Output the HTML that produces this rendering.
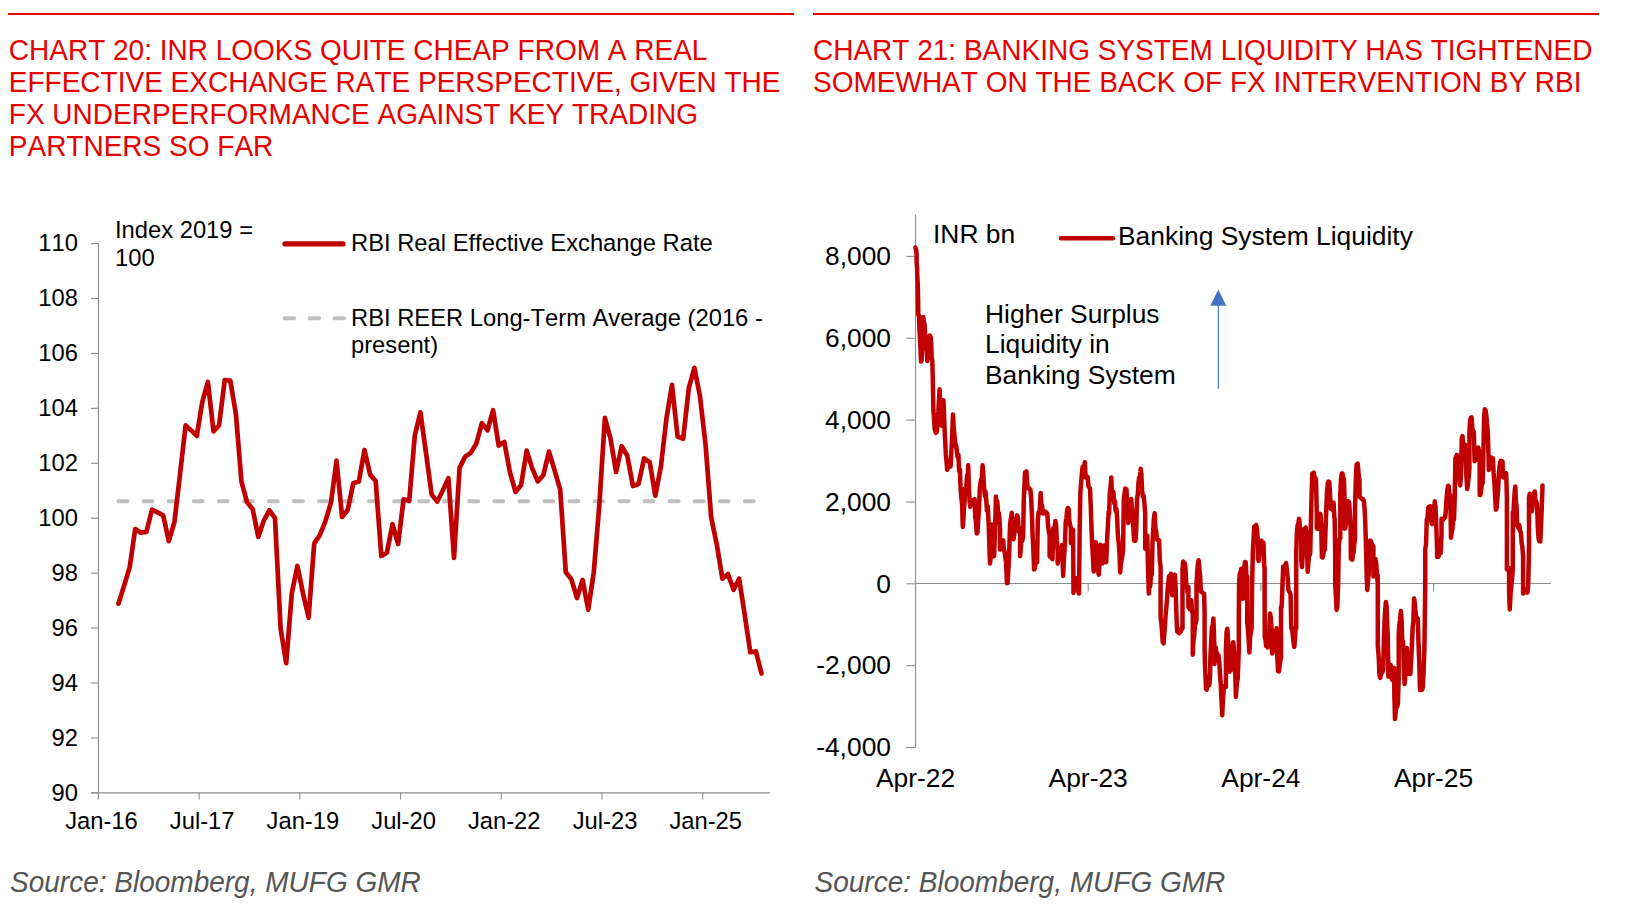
<!DOCTYPE html>
<html><head><meta charset="utf-8"><title>Charts</title>
<style>
html,body{margin:0;padding:0;background:#fff;}
body{font-kerning:none;width:1632px;height:919px;position:relative;overflow:hidden;font-family:"Liberation Sans",sans-serif;}
.rule{position:absolute;top:12.9px;height:2.2px;background:#e60000;}
.title{position:absolute;top:34.4px;font-size:28px;line-height:31.07px;transform:scaleY(1.03);transform-origin:0 0;color:#e60000;white-space:nowrap;letter-spacing:0px;}
.src{position:absolute;top:867px;font-size:28px;line-height:32px;font-style:italic;color:#555555;transform:scaleY(1.035);transform-origin:0 25px;white-space:nowrap;}
svg{position:absolute;left:0;top:0;}
.t1{font-family:"Liberation Sans",sans-serif;font-size:23.75px;fill:#000;font-kerning:none;}
.t2{font-family:"Liberation Sans",sans-serif;font-size:26.4px;fill:#000;font-kerning:none;}
</style></head><body>
<div class="rule" style="left:8px;width:786px"></div>
<div class="rule" style="left:813px;width:786px"></div>
<div class="title" style="left:8.8px">CHART 20: INR LOOKS QUITE CHEAP FROM A REAL<br>EFFECTIVE EXCHANGE RATE PERSPECTIVE, GIVEN THE<br>FX UNDERPERFORMANCE AGAINST KEY TRADING<br>PARTNERS SO FAR</div>
<div class="title" style="left:813px">CHART 21: BANKING SYSTEM LIQUIDITY HAS TIGHTENED<br>SOMEWHAT ON THE BACK OF FX INTERVENTION BY RBI</div>
<div class="src" style="left:10px">Source: Bloomberg, MUFG GMR</div>
<div class="src" style="left:814.5px">Source: Bloomberg, MUFG GMR</div>
<svg width="1632" height="919" viewBox="0 0 1632 919">
<line x1="98.45" y1="243" x2="98.45" y2="799" stroke="#8c8c8c" stroke-width="1.1"/>
<line x1="91" y1="792.85" x2="770" y2="792.85" stroke="#8c8c8c" stroke-width="1.1"/>
<line x1="91" y1="792.85" x2="98.45" y2="792.85" stroke="#8c8c8c" stroke-width="1.1"/>
<text x="78" y="800.6" text-anchor="end" class="t1">90</text>
<line x1="91" y1="737.92" x2="98.45" y2="737.92" stroke="#8c8c8c" stroke-width="1.1"/>
<text x="78" y="745.6" text-anchor="end" class="t1">92</text>
<line x1="91" y1="682.99" x2="98.45" y2="682.99" stroke="#8c8c8c" stroke-width="1.1"/>
<text x="78" y="690.7" text-anchor="end" class="t1">94</text>
<line x1="91" y1="628.06" x2="98.45" y2="628.06" stroke="#8c8c8c" stroke-width="1.1"/>
<text x="78" y="635.8" text-anchor="end" class="t1">96</text>
<line x1="91" y1="573.13" x2="98.45" y2="573.13" stroke="#8c8c8c" stroke-width="1.1"/>
<text x="78" y="580.8" text-anchor="end" class="t1">98</text>
<line x1="91" y1="518.20" x2="98.45" y2="518.20" stroke="#8c8c8c" stroke-width="1.1"/>
<text x="78" y="525.9" text-anchor="end" class="t1">100</text>
<line x1="91" y1="463.27" x2="98.45" y2="463.27" stroke="#8c8c8c" stroke-width="1.1"/>
<text x="78" y="471.0" text-anchor="end" class="t1">102</text>
<line x1="91" y1="408.34" x2="98.45" y2="408.34" stroke="#8c8c8c" stroke-width="1.1"/>
<text x="78" y="416.0" text-anchor="end" class="t1">104</text>
<line x1="91" y1="353.41" x2="98.45" y2="353.41" stroke="#8c8c8c" stroke-width="1.1"/>
<text x="78" y="361.1" text-anchor="end" class="t1">106</text>
<line x1="91" y1="298.48" x2="98.45" y2="298.48" stroke="#8c8c8c" stroke-width="1.1"/>
<text x="78" y="306.2" text-anchor="end" class="t1">108</text>
<line x1="91" y1="243.55" x2="98.45" y2="243.55" stroke="#8c8c8c" stroke-width="1.1"/>
<text x="78" y="251.3" text-anchor="end" class="t1">110</text>
<line x1="98.45" y1="792.85" x2="98.45" y2="799.5" stroke="#8c8c8c" stroke-width="1.1"/>
<text x="101.5" y="829" text-anchor="middle" class="t1">Jan-16</text>
<line x1="199.15" y1="792.85" x2="199.15" y2="799.5" stroke="#8c8c8c" stroke-width="1.1"/>
<text x="202.2" y="829" text-anchor="middle" class="t1">Jul-17</text>
<line x1="299.85" y1="792.85" x2="299.85" y2="799.5" stroke="#8c8c8c" stroke-width="1.1"/>
<text x="302.9" y="829" text-anchor="middle" class="t1">Jan-19</text>
<line x1="400.55" y1="792.85" x2="400.55" y2="799.5" stroke="#8c8c8c" stroke-width="1.1"/>
<text x="403.6" y="829" text-anchor="middle" class="t1">Jul-20</text>
<line x1="501.25" y1="792.85" x2="501.25" y2="799.5" stroke="#8c8c8c" stroke-width="1.1"/>
<text x="504.2" y="829" text-anchor="middle" class="t1">Jan-22</text>
<line x1="601.95" y1="792.85" x2="601.95" y2="799.5" stroke="#8c8c8c" stroke-width="1.1"/>
<text x="605.0" y="829" text-anchor="middle" class="t1">Jul-23</text>
<line x1="702.65" y1="792.85" x2="702.65" y2="799.5" stroke="#8c8c8c" stroke-width="1.1"/>
<text x="705.7" y="829" text-anchor="middle" class="t1">Jan-25</text>
<line x1="118.6" y1="501.2" x2="760" y2="501.2" stroke="#bfbfbf" stroke-width="4.1" stroke-dasharray="8.8,16.25" stroke-linecap="round"/>
<polyline points="118.5,603.7 124.1,585.6 129.7,567.2 135.2,529.0 140.8,532.7 146.4,531.9 152.0,509.7 157.6,512.4 163.2,515.4 168.8,541.1 174.4,522.2 180.0,474.6 185.6,425.4 191.2,430.4 196.8,435.9 202.3,401.9 207.9,382.0 213.5,431.3 219.1,425.3 224.7,380.2 230.3,380.7 235.9,413.9 241.5,481.9 247.1,502.3 252.7,509.2 258.3,536.9 263.9,520.3 269.4,510.3 275.0,518.2 280.6,628.3 286.2,663.2 291.8,593.3 297.4,566.0 303.0,593.3 308.6,617.6 314.2,543.5 319.8,535.1 325.4,521.3 331.0,502.5 336.5,460.7 342.1,517.0 347.7,510.0 353.3,483.2 358.9,481.4 364.5,450.0 370.1,474.6 375.7,481.0 381.3,556.0 386.9,552.8 392.5,524.2 398.1,544.0 403.6,499.3 409.2,501.1 414.8,435.5 420.4,412.4 426.0,452.9 431.6,494.3 437.2,501.7 442.8,490.5 448.4,478.2 454.0,557.9 459.6,467.6 465.2,456.6 470.7,452.9 476.3,443.7 481.9,423.1 487.5,430.3 493.1,410.2 498.7,445.6 504.3,441.9 509.9,472.2 515.5,491.9 521.1,485.1 526.7,450.6 532.3,468.6 537.8,481.4 543.4,475.0 549.0,451.6 554.6,470.4 560.2,489.7 565.8,572.3 571.4,579.3 577.0,598.0 582.6,580.0 588.2,609.6 593.8,572.3 599.4,504.0 604.9,417.8 610.5,438.5 616.1,472.0 621.7,446.2 627.3,455.8 632.9,486.0 638.5,484.0 644.1,458.4 649.7,462.2 655.3,495.7 660.9,466.5 666.5,418.0 672.0,384.9 677.6,436.5 683.2,438.7 688.8,388.1 694.4,367.8 700.0,396.4 705.6,445.0 711.2,517.5 716.8,544.5 722.4,578.7 728.0,574.1 733.6,589.8 739.1,578.7 744.7,614.6 750.3,652.3 755.9,651.4 761.5,673.5" fill="none" stroke="#c00000" stroke-width="4.7" stroke-linejoin="round" stroke-linecap="round"/>
<line x1="285" y1="243.9" x2="343" y2="243.9" stroke="#c00000" stroke-width="5.3" stroke-linecap="round"/>
<text x="351" y="251" class="t1">RBI Real Effective Exchange Rate</text>
<line x1="284.6" y1="318.2" x2="344" y2="318.2" stroke="#bfbfbf" stroke-width="4.1" stroke-dasharray="9.6,15.4" stroke-linecap="round"/>
<text x="351" y="326" class="t1">RBI REER Long-Term Average (2016 -</text>
<text x="351" y="353" class="t1">present)</text>
<text x="115" y="238" class="t1">Index 2019 =</text>
<text x="115" y="266" class="t1">100</text>
<line x1="915.5" y1="215" x2="915.5" y2="748" stroke="#8c8c8c" stroke-width="1.1"/>
<line x1="915.5" y1="583.47" x2="1551" y2="583.47" stroke="#8c8c8c" stroke-width="1.1"/>
<line x1="906.3" y1="747.50" x2="915.5" y2="747.50" stroke="#8c8c8c" stroke-width="1.1"/>
<text x="891" y="756.3" text-anchor="end" class="t2">-4,000</text>
<line x1="906.3" y1="665.65" x2="915.5" y2="665.65" stroke="#8c8c8c" stroke-width="1.1"/>
<text x="891" y="674.4" text-anchor="end" class="t2">-2,000</text>
<line x1="906.3" y1="583.80" x2="915.5" y2="583.80" stroke="#8c8c8c" stroke-width="1.1"/>
<text x="891" y="592.6" text-anchor="end" class="t2">0</text>
<line x1="906.3" y1="501.95" x2="915.5" y2="501.95" stroke="#8c8c8c" stroke-width="1.1"/>
<text x="891" y="510.8" text-anchor="end" class="t2">2,000</text>
<line x1="906.3" y1="420.10" x2="915.5" y2="420.10" stroke="#8c8c8c" stroke-width="1.1"/>
<text x="891" y="428.9" text-anchor="end" class="t2">4,000</text>
<line x1="906.3" y1="338.25" x2="915.5" y2="338.25" stroke="#8c8c8c" stroke-width="1.1"/>
<text x="891" y="347.1" text-anchor="end" class="t2">6,000</text>
<line x1="906.3" y1="256.40" x2="915.5" y2="256.40" stroke="#8c8c8c" stroke-width="1.1"/>
<text x="891" y="265.2" text-anchor="end" class="t2">8,000</text>
<line x1="915.50" y1="583.47" x2="915.50" y2="591.5" stroke="#8c8c8c" stroke-width="1.1"/>
<text x="915.5" y="786.5" text-anchor="middle" class="t2">Apr-22</text>
<line x1="1088.20" y1="583.47" x2="1088.20" y2="591.5" stroke="#8c8c8c" stroke-width="1.1"/>
<text x="1088.2" y="786.5" text-anchor="middle" class="t2">Apr-23</text>
<line x1="1260.90" y1="583.47" x2="1260.90" y2="591.5" stroke="#8c8c8c" stroke-width="1.1"/>
<text x="1260.9" y="786.5" text-anchor="middle" class="t2">Apr-24</text>
<line x1="1433.60" y1="583.47" x2="1433.60" y2="591.5" stroke="#8c8c8c" stroke-width="1.1"/>
<text x="1433.6" y="786.5" text-anchor="middle" class="t2">Apr-25</text>
<polyline points="915.4,247.5 916.1,250.1 916.6,254.0 916.6,262.0 917.2,270.0 917.2,274.0 917.8,285.0 918.1,300.0 918.3,315.0 919.0,315.7 919.4,328.0 920.1,340.9 920.3,343.0 921.0,361.5 921.6,360.5 922.3,342.4 923.0,328.5 923.2,317.0 923.9,321.9 924.6,324.5 925.1,334.0 925.8,341.6 926.5,348.3 927.2,357.9 927.4,361.0 928.1,356.7 928.8,353.5 929.5,341.0 929.8,335.5 930.6,337.0 931.3,345.0 931.6,357.0 932.3,360.9 932.8,380.0 933.4,410.7 934.1,419.0 934.7,429.2 935.4,431.7 936.0,432.8 936.9,431.6 937.6,418.9 938.3,412.0 939.0,399.6 939.6,389.2 940.3,406.5 941.0,419.0 941.2,425.5 941.9,415.1 942.6,417.8 943.2,403.6 943.5,400.3 944.2,419.0 944.9,436.1 945.1,439.0 945.8,453.4 946.5,460.9 947.2,469.7 947.4,467.9 948.0,467.9 948.7,466.9 949.4,467.2 950.1,466.7 950.6,466.2 951.3,453.5 952.0,440.0 952.7,422.3 952.9,414.4 953.6,425.3 954.3,434.1 955.0,439.5 955.4,445.9 956.1,445.4 956.8,450.4 957.5,456.8 958.4,454.7 959.1,471.2 959.9,469.4 960.5,486.9 961.2,495.9 962.1,504.7 962.8,527.0 963.2,523.1 963.9,508.3 964.6,501.7 965.0,488.5 965.7,492.2 966.5,484.1 967.2,475.3 967.9,476.7 968.2,465.3 968.9,487.7 969.6,501.4 970.1,506.9 970.8,503.5 971.5,501.6 972.4,500.3 973.0,500.7 973.7,500.5 974.6,499.1 975.2,517.0 975.9,521.1 976.8,533.4 977.5,532.6 978.1,521.3 979.0,510.6 979.7,489.8 980.4,484.1 981.1,479.2 981.8,480.0 982.6,465.3 983.3,474.5 984.0,487.3 984.9,495.9 985.5,491.5 986.2,499.2 986.9,510.6 987.8,506.2 988.5,521.5 988.8,528.2 989.5,549.1 990.0,563.5 990.7,557.1 991.4,536.3 991.8,524.6 992.5,537.6 993.1,554.3 993.8,553.2 994.1,556.2 994.8,535.7 995.5,514.9 995.9,496.6 996.6,506.3 997.3,501.2 998.1,513.5 998.8,513.0 999.5,519.6 1000.0,528.2 1000.0,549.6 1000.7,549.0 1001.4,547.0 1002.1,543.2 1002.8,541.7 1003.2,540.3 1003.9,550.3 1004.6,551.5 1005.4,557.6 1006.1,562.4 1006.9,583.2 1007.6,583.1 1008.3,570.8 1009.1,557.6 1009.9,528.2 1010.5,520.5 1011.2,517.0 1011.8,512.8 1012.5,529.4 1013.1,533.1 1013.5,539.3 1014.2,534.0 1014.9,528.6 1015.7,520.1 1016.4,518.5 1017.1,515.4 1017.9,517.2 1018.6,530.6 1019.3,532.3 1020.1,528.2 1020.1,556.2 1020.8,548.3 1021.5,536.9 1022.2,541.0 1023.1,537.1 1023.8,498.8 1024.5,484.4 1025.0,472.6 1025.7,475.1 1026.4,471.2 1027.1,482.9 1027.8,488.1 1028.2,488.5 1028.9,488.1 1029.7,489.3 1030.4,489.5 1031.1,497.2 1031.9,513.5 1032.6,535.4 1033.4,550.3 1034.1,569.4 1034.8,568.6 1035.5,563.6 1036.2,563.0 1037.1,562.1 1037.8,520.9 1038.5,512.4 1039.2,513.5 1039.9,507.0 1040.7,492.9 1041.4,504.7 1042.1,505.5 1042.9,513.5 1043.6,513.4 1044.3,512.7 1045.0,511.8 1045.7,511.7 1046.4,512.9 1047.1,513.5 1047.3,513.5 1048.0,524.8 1048.7,530.6 1049.6,535.6 1049.6,556.2 1050.2,556.9 1050.9,555.1 1051.6,558.0 1052.5,559.1 1053.2,528.2 1053.9,528.7 1054.6,529.0 1055.4,520.9 1056.1,524.9 1056.8,540.4 1057.7,551.8 1057.7,563.5 1058.3,557.9 1059.0,559.0 1059.7,559.8 1060.4,557.3 1061.1,548.2 1061.3,548.1 1062.0,545.0 1062.7,562.2 1063.2,576.0 1063.9,559.0 1064.6,549.5 1065.0,542.9 1065.7,522.4 1066.4,518.3 1067.1,511.3 1067.8,508.0 1068.7,509.1 1069.4,522.0 1070.1,524.4 1070.9,528.2 1070.9,542.9 1071.6,540.5 1072.3,534.6 1073.1,529.7 1073.5,592.9 1074.2,583.7 1074.9,589.6 1075.6,583.4 1076.0,578.2 1076.7,582.1 1077.4,585.9 1078.1,590.6 1079.0,593.5 1079.7,528.2 1080.4,491.5 1081.1,483.4 1081.8,474.1 1082.5,467.4 1083.4,466.2 1084.1,469.6 1084.8,462.3 1085.6,477.5 1086.3,475.9 1087.1,476.5 1087.8,477.5 1088.4,486.4 1089.1,487.0 1090.0,488.5 1090.7,504.4 1091.5,528.2 1092.2,544.7 1092.8,555.1 1093.7,571.6 1094.4,549.0 1095.2,542.9 1095.8,542.2 1096.5,554.4 1097.2,562.3 1097.9,566.4 1098.6,574.0 1098.8,574.6 1099.5,564.4 1100.3,544.7 1101.0,546.6 1101.7,547.1 1102.5,563.5 1103.2,554.7 1104.0,545.4 1104.7,548.1 1105.3,559.3 1106.2,562.1 1106.9,544.5 1107.3,535.6 1108.0,523.7 1108.7,511.5 1109.1,513.5 1109.8,492.7 1110.5,487.9 1111.3,477.5 1112.0,495.7 1112.7,496.9 1113.4,491.7 1114.3,503.2 1115.0,501.2 1115.6,510.9 1116.5,509.1 1117.2,519.2 1117.8,534.3 1118.7,542.9 1119.4,551.1 1120.2,572.4 1120.8,564.5 1121.5,560.1 1122.2,556.6 1123.1,550.3 1123.8,498.8 1124.5,494.4 1125.2,488.5 1125.9,494.0 1126.5,489.3 1127.2,506.4 1127.8,511.9 1128.2,523.1 1128.9,519.0 1129.6,506.5 1130.3,508.5 1131.2,499.1 1131.9,507.6 1132.7,513.5 1133.3,527.5 1134.1,540.7 1134.8,537.9 1135.5,540.7 1136.3,528.2 1137.1,498.8 1137.8,493.9 1138.4,483.2 1139.1,477.8 1139.8,477.9 1140.5,472.0 1140.7,468.7 1141.4,475.0 1142.1,490.8 1142.8,496.4 1143.7,495.9 1144.4,503.2 1145.2,513.5 1145.2,548.8 1145.8,540.8 1146.5,537.5 1147.3,535.6 1148.0,567.5 1148.8,593.5 1149.5,584.5 1150.2,586.3 1150.9,576.3 1151.8,574.1 1152.5,542.9 1153.2,531.0 1153.9,518.2 1154.7,513.1 1155.4,528.4 1156.1,530.4 1156.9,538.8 1157.6,540.0 1158.3,540.7 1159.1,540.3 1159.8,560.5 1160.6,566.8 1160.6,618.2 1161.3,622.2 1162.0,631.1 1162.7,641.6 1163.5,643.5 1164.2,635.2 1164.9,626.1 1165.6,615.5 1166.3,607.7 1167.0,599.6 1167.7,588.8 1168.3,583.1 1169.0,576.3 1169.7,581.2 1170.4,579.2 1170.9,573.7 1171.6,589.0 1172.3,595.2 1172.8,594.4 1173.5,592.7 1174.2,579.7 1175.0,574.6 1175.7,589.4 1176.4,613.7 1177.1,631.5 1177.8,631.7 1178.4,632.5 1179.1,633.2 1179.6,632.9 1180.2,630.5 1180.9,631.4 1181.6,628.1 1182.5,628.2 1182.5,598.8 1182.5,569.4 1183.2,561.6 1183.9,564.6 1184.7,563.2 1185.4,567.0 1186.2,584.1 1186.9,587.0 1187.6,592.5 1188.4,587.1 1188.4,606.9 1189.1,606.4 1189.8,609.1 1190.5,604.3 1191.3,600.3 1192.0,611.3 1192.8,613.5 1192.8,642.9 1192.8,654.7 1193.5,638.8 1194.2,635.9 1195.0,623.8 1195.7,623.4 1196.5,619.4 1196.5,584.1 1197.2,571.4 1197.9,564.3 1198.6,560.2 1199.3,567.4 1200.2,576.8 1200.9,591.5 1201.6,591.7 1202.3,592.5 1203.0,593.1 1203.6,593.5 1204.1,593.7 1204.6,613.5 1204.6,650.3 1205.0,665.0 1205.7,680.6 1206.0,688.8 1206.7,689.7 1207.4,684.9 1208.1,685.8 1208.8,685.3 1209.4,684.9 1210.1,674.5 1210.4,656.8 1211.1,643.3 1211.9,627.4 1212.6,626.9 1213.4,618.4 1214.1,637.3 1214.4,649.4 1214.4,664.1 1215.1,658.7 1215.8,647.5 1216.5,653.6 1217.1,653.2 1217.8,657.3 1218.4,655.1 1219.3,662.6 1220.0,674.5 1220.7,683.2 1221.4,698.3 1222.2,715.3 1222.9,701.0 1223.7,689.1 1224.4,686.2 1225.1,685.8 1225.9,687.1 1225.9,649.4 1226.6,631.8 1227.3,628.7 1228.0,639.9 1228.8,649.4 1228.8,671.5 1229.5,671.7 1230.2,669.6 1231.0,670.0 1231.7,655.2 1232.5,649.4 1233.2,642.2 1233.9,647.9 1234.7,664.1 1235.4,679.0 1235.9,696.9 1236.6,686.1 1237.3,680.3 1237.7,678.8 1238.3,663.6 1238.8,649.4 1238.8,620.0 1239.1,584.1 1239.8,573.6 1240.5,572.5 1241.3,568.7 1242.0,586.0 1242.8,598.8 1243.5,583.5 1244.2,568.6 1245.0,562.1 1245.7,562.2 1246.4,575.4 1247.2,576.8 1247.2,598.8 1247.2,622.4 1247.9,629.0 1248.6,639.6 1249.4,652.5 1250.1,637.5 1250.8,633.0 1251.6,628.2 1252.1,585.1 1252.8,552.9 1253.5,540.5 1254.3,526.5 1255.0,526.1 1255.6,527.1 1256.2,525.0 1256.9,528.4 1257.6,538.8 1257.9,538.2 1257.9,558.8 1258.7,561.0 1259.4,554.3 1260.2,541.2 1260.8,540.9 1261.5,540.7 1262.2,543.2 1262.9,543.2 1263.5,542.9 1264.2,566.3 1264.6,567.6 1264.6,598.8 1264.8,637.1 1265.5,639.7 1266.2,646.3 1266.9,644.9 1267.8,647.4 1268.5,634.1 1269.3,628.2 1270.0,613.5 1270.7,617.2 1271.5,628.2 1272.2,653.5 1272.9,650.9 1273.6,641.7 1274.4,631.2 1275.1,637.7 1275.9,642.9 1276.6,628.2 1277.3,658.1 1278.1,671.2 1278.8,671.5 1279.5,667.4 1280.2,661.4 1281.0,657.6 1281.0,628.2 1281.0,606.9 1281.7,607.1 1282.5,584.1 1283.2,566.5 1283.9,566.8 1284.6,565.7 1285.4,564.7 1286.1,563.1 1286.8,569.0 1287.7,578.2 1288.3,589.7 1289.1,591.5 1289.8,592.2 1290.6,594.4 1291.3,628.2 1292.0,628.3 1292.7,634.3 1293.4,641.5 1294.3,646.9 1295.0,638.7 1295.6,627.5 1296.2,628.2 1296.2,576.8 1296.2,552.9 1296.9,532.4 1297.6,525.1 1298.3,524.1 1299.0,518.8 1299.4,520.1 1300.1,530.6 1300.8,534.6 1301.3,538.2 1301.3,560.3 1302.0,567.0 1302.8,552.9 1303.5,532.4 1304.2,528.9 1304.9,529.8 1305.7,527.5 1306.4,532.5 1307.2,552.9 1307.7,571.8 1308.3,563.4 1309.0,556.1 1309.7,554.9 1310.2,552.9 1310.9,523.5 1311.6,494.1 1312.3,473.5 1313.0,473.4 1313.8,472.6 1314.5,478.2 1315.2,477.6 1316.0,479.4 1316.8,514.7 1316.8,527.9 1317.5,528.9 1318.1,529.0 1318.8,517.2 1319.7,516.5 1320.4,513.9 1321.2,523.5 1321.9,557.1 1322.6,557.5 1323.3,555.1 1324.0,548.1 1324.8,550.0 1325.5,530.8 1326.3,508.8 1327.0,491.6 1327.8,483.1 1328.5,481.6 1329.3,481.9 1330.0,493.4 1330.7,508.8 1331.4,508.7 1332.1,508.1 1332.9,510.3 1333.6,502.7 1334.3,517.0 1334.7,519.1 1335.2,552.9 1335.2,585.1 1335.8,593.9 1336.6,609.9 1337.3,607.5 1338.1,585.1 1338.8,545.6 1339.5,539.0 1340.3,538.2 1340.3,494.1 1341.0,478.8 1341.8,473.5 1342.5,473.6 1343.1,477.2 1344.0,479.4 1344.7,508.8 1344.7,528.7 1345.4,527.9 1346.1,521.8 1346.9,523.5 1347.7,508.8 1348.3,501.2 1349.1,502.5 1349.8,512.7 1350.6,523.5 1350.9,558.8 1351.6,554.6 1352.3,559.7 1353.0,553.4 1353.5,552.9 1354.2,545.0 1355.0,538.2 1355.0,508.8 1355.7,484.2 1356.5,464.7 1357.2,466.7 1357.7,463.5 1358.3,470.4 1359.0,479.2 1359.4,479.4 1359.7,497.1 1360.4,497.3 1361.1,498.2 1361.8,498.9 1362.5,499.5 1363.1,499.3 1363.8,500.6 1364.6,508.8 1365.2,521.5 1366.0,545.6 1366.7,577.0 1367.3,590.0 1368.0,581.2 1368.7,573.8 1369.0,567.6 1369.4,541.2 1370.1,540.6 1370.9,541.2 1371.6,543.3 1372.3,545.1 1373.0,545.7 1373.4,547.1 1373.4,567.6 1373.4,576.5 1374.1,573.7 1374.8,570.0 1375.5,559.0 1376.3,564.3 1377.0,576.6 1377.8,582.4 1377.8,575.3 1377.8,645.9 1378.1,648.8 1378.8,658.6 1379.5,675.1 1380.3,677.9 1381.0,674.4 1381.7,670.2 1382.4,672.1 1383.2,669.4 1384.0,634.1 1384.7,617.9 1385.3,609.2 1385.9,602.1 1386.6,606.1 1387.3,627.0 1387.7,634.1 1388.4,676.8 1389.1,668.5 1389.8,671.9 1390.6,665.0 1391.3,674.2 1392.1,679.7 1392.8,678.5 1393.4,672.0 1394.3,667.9 1394.3,692.9 1395.0,719.1 1395.7,711.8 1396.4,706.5 1397.1,707.0 1397.9,703.2 1398.7,678.2 1398.7,634.1 1399.4,624.4 1400.1,619.5 1400.9,610.9 1401.6,619.7 1402.3,641.4 1403.1,641.5 1403.8,668.1 1404.6,684.1 1405.2,676.6 1406.0,648.8 1406.8,648.1 1407.5,662.7 1408.1,671.0 1408.5,673.8 1409.2,672.6 1409.9,673.6 1410.4,673.8 1411.1,660.0 1411.8,647.9 1412.7,626.8 1413.3,622.6 1414.1,598.4 1414.8,603.5 1415.5,611.6 1416.3,617.9 1417.0,619.2 1417.8,618.7 1418.5,642.6 1419.3,663.5 1420.0,690.0 1420.7,688.9 1421.4,688.2 1422.1,689.8 1422.9,687.1 1423.6,671.1 1424.4,648.8 1425.2,590.0 1425.2,592.9 1425.3,548.8 1426.0,544.7 1426.8,519.4 1427.5,519.8 1428.2,507.6 1428.9,506.8 1429.6,506.5 1430.3,506.3 1431.0,507.5 1431.5,506.5 1431.5,523.1 1432.2,524.0 1432.8,521.5 1433.4,519.4 1434.1,515.0 1434.8,501.3 1435.5,506.9 1436.3,526.8 1437.1,548.8 1437.1,556.9 1437.8,556.6 1438.4,556.8 1439.1,554.5 1439.8,552.2 1440.5,552.6 1440.7,553.2 1441.5,534.1 1441.5,518.7 1442.2,519.2 1442.8,520.1 1443.5,518.9 1444.2,518.5 1444.9,517.2 1445.2,517.2 1445.8,511.0 1446.6,497.9 1447.3,490.5 1448.1,485.7 1448.8,486.5 1449.5,496.3 1450.3,495.0 1451.0,537.8 1451.7,532.3 1452.4,529.5 1453.1,521.0 1454.0,519.4 1454.7,497.9 1455.4,458.2 1456.1,457.0 1456.8,454.9 1457.5,455.3 1457.9,455.6 1458.6,472.0 1459.1,468.5 1459.8,483.8 1460.3,485.4 1461.0,473.7 1461.3,461.2 1461.8,437.9 1462.5,436.2 1463.1,443.9 1463.5,443.5 1464.2,453.4 1464.9,444.6 1465.7,459.7 1466.4,476.1 1467.2,489.1 1467.9,484.6 1468.6,477.6 1469.4,468.5 1469.4,431.8 1470.1,421.5 1470.8,417.6 1471.6,417.4 1472.3,428.0 1473.0,430.7 1473.8,431.8 1474.6,461.2 1475.2,460.1 1475.9,459.2 1476.8,459.7 1477.5,453.2 1478.2,447.5 1478.9,450.1 1479.7,461.2 1479.7,495.0 1480.4,494.9 1481.1,490.9 1481.8,483.8 1482.7,483.2 1483.4,453.8 1484.1,417.1 1484.8,409.3 1485.6,410.7 1486.3,415.1 1487.0,424.0 1487.8,431.8 1488.5,455.2 1488.8,470.0 1489.5,463.8 1490.2,464.0 1490.7,457.8 1491.4,457.5 1492.1,458.3 1492.9,458.2 1493.6,472.7 1494.4,483.2 1495.1,495.8 1495.9,509.7 1496.6,508.1 1497.3,497.8 1498.1,490.6 1498.8,474.8 1499.6,465.6 1500.2,462.3 1500.9,460.8 1501.6,462.4 1502.5,461.5 1503.2,477.4 1503.9,474.9 1504.6,475.9 1505.3,477.1 1506.2,473.2 1506.9,497.9 1506.9,534.1 1506.9,569.4 1507.6,569.1 1508.3,568.0 1509.1,567.9 1509.1,592.9 1509.8,609.4 1510.5,594.9 1511.2,586.8 1512.1,578.2 1512.8,569.4 1512.8,534.1 1512.8,512.1 1513.5,512.0 1514.2,498.9 1514.9,489.3 1515.3,486.5 1516.0,503.5 1516.5,504.7 1517.2,525.7 1517.9,526.8 1518.6,528.3 1519.3,525.0 1520.0,530.7 1520.9,532.6 1521.6,542.7 1522.3,546.6 1523.1,556.2 1523.1,578.2 1523.1,593.4 1523.8,591.4 1524.5,589.3 1525.2,592.3 1526.0,590.0 1526.7,590.2 1527.4,592.6 1528.2,585.6 1529.0,548.8 1529.0,504.7 1529.0,498.1 1529.7,493.8 1530.4,495.9 1531.1,501.6 1531.9,511.3 1532.6,504.9 1533.3,503.5 1534.0,493.1 1534.8,491.6 1535.5,502.8 1536.2,501.4 1537.1,504.7 1537.8,526.8 1538.5,538.1 1539.2,541.1 1539.9,539.1 1540.3,541.5 1541.0,525.4 1541.3,519.4 1542.0,501.3 1542.5,485.4" fill="none" stroke="#c00000" stroke-width="4.5" stroke-linejoin="round" stroke-linecap="round"/>
<line x1="1061" y1="238.3" x2="1113" y2="238.3" stroke="#c00000" stroke-width="4.4" stroke-linecap="round"/>
<text x="1118" y="245.3" class="t2">Banking System Liquidity</text>
<text x="933" y="242.5" class="t2">INR bn</text>
<text x="985" y="323" class="t2">Higher Surplus</text>
<text x="985" y="353" class="t2">Liquidity in</text>
<text x="985" y="384" class="t2">Banking System</text>
<line x1="1218.4" y1="300" x2="1218.4" y2="388.7" stroke="#4472c4" stroke-width="1.15"/>
<polygon points="1210.3,305.7 1226.3,305.7 1218.3,289.5" fill="#4472c4"/>
</svg>
</body></html>
